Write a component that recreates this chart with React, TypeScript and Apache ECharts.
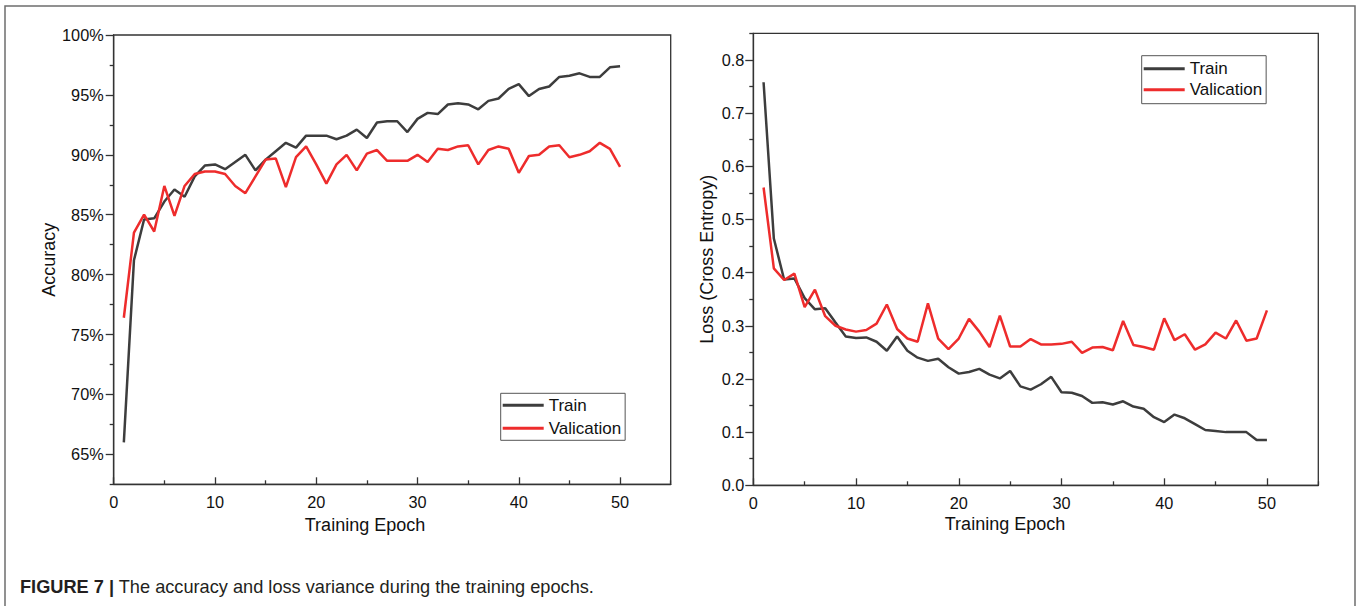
import React, { useEffect, useRef } from "react";
import * as echarts from "echarts";

const epochs = [
  1, 2, 3, 4, 5, 6, 7, 8, 9, 10, 11, 12, 13, 14, 15, 16, 17, 18, 19, 20, 21, 22, 23, 24, 25,
  26, 27, 28, 29, 30, 31, 32, 33, 34, 35, 36, 37, 38, 39, 40, 41, 42, 43, 44, 45, 46, 47, 48, 49, 50,
];

const accTrain = [
  66.0, 81.2, 84.6, 84.7, 86.1, 87.1, 86.5, 88.2, 89.1, 89.2, 88.8, 89.4, 90.0, 88.7, 89.6, 90.3, 91.0, 90.6, 91.6, 91.6,
  91.6, 91.3, 91.6, 92.1, 91.4, 92.7, 92.8, 92.8, 91.9, 93.0, 93.5, 93.4, 94.2, 94.3, 94.2, 93.8, 94.5, 94.7, 95.5, 95.9,
  94.9, 95.5, 95.7, 96.5, 96.6, 96.8, 96.5, 96.5, 97.3, 97.4,
];

const accVal = [
  76.4, 83.5, 85.0, 83.6, 87.4, 84.9, 87.4, 88.4, 88.6, 88.6, 88.4, 87.4, 86.8, 88.2, 89.6, 89.7, 87.3, 89.8, 90.7, 89.2,
  87.6, 89.2, 90.0, 88.7, 90.1, 90.4, 89.5, 89.5, 89.5, 90.0, 89.4, 90.5, 90.4, 90.7, 90.8, 89.2, 90.4, 90.7, 90.5, 88.5,
  89.9, 90.0, 90.7, 90.8, 89.8, 90.0, 90.3, 91.0, 90.5, 89.0,
];

const lossTrain = [
  0.758, 0.464, 0.387, 0.389, 0.352, 0.331, 0.333, 0.306, 0.28, 0.277, 0.278, 0.27, 0.253, 0.28, 0.253, 0.24, 0.234, 0.238,
  0.222, 0.21, 0.213, 0.219, 0.208, 0.201, 0.215, 0.186, 0.18, 0.19, 0.204, 0.175, 0.174, 0.168, 0.155, 0.156, 0.152, 0.158,
  0.148, 0.144, 0.128, 0.119, 0.133, 0.126, 0.115, 0.104, 0.102, 0.1, 0.1, 0.1, 0.085, 0.085,
];

const lossVal = [
  0.56, 0.408, 0.386, 0.398, 0.335, 0.368, 0.318, 0.3, 0.293, 0.289, 0.292, 0.304, 0.34, 0.294, 0.276, 0.27, 0.342, 0.276,
  0.256, 0.276, 0.313, 0.289, 0.26, 0.319, 0.261, 0.261, 0.275, 0.265, 0.265, 0.266, 0.27, 0.249, 0.259, 0.26, 0.254, 0.309,
  0.264, 0.26, 0.255, 0.314, 0.273, 0.284, 0.255, 0.265, 0.287, 0.276, 0.31, 0.272, 0.276, 0.329,
];

const epochTicks = [0, 10, 20, 30, 40, 50];
const epochMinorTicks = [5, 15, 25, 35, 45, 55];
const accTicks = [65, 70, 75, 80, 85, 90, 95, 100];
const accMinorTicks = [62.5, 67.5, 72.5, 77.5, 82.5, 87.5, 92.5, 97.5];
const lossTicks = [0, 0.1, 0.2, 0.3, 0.4, 0.5, 0.6, 0.7, 0.8];
const lossMinorTicks = [0.05, 0.15, 0.25, 0.35, 0.45, 0.55, 0.65, 0.75, 0.85];

const seriesNames = ["Train", "Valication"];
const xTitle = "Training Epoch";
const accTitle = "Accuracy";
const lossTitle = "Loss (Cross Entropy)";
const captionBold = "FIGURE 7 |";
const captionText = "The accuracy and loss variance during the training epochs.";

const FONT = '"Liberation Sans", Arial, Helvetica, sans-serif';
const AXIS_COLOR = "#333333";
const TEXT_COLOR = "#111111";
const TRAIN_COLOR = "#3d3d3d";
const VAL_COLOR = "#ee2c2c";

const axisLineStyle = { color: AXIS_COLOR, width: 1.3 };

function majorX(gridIndex: number) {
  return {
    type: "value",
    gridIndex,
    min: 0,
    max: 55,
    position: "bottom",
    axisLine: { show: true, onZero: false, lineStyle: axisLineStyle },
    axisTick: { show: true, inside: true, length: 7, customValues: epochTicks, lineStyle: axisLineStyle },
    axisLabel: {
      show: true,
      customValues: epochTicks,
      fontSize: 16.3,
      color: TEXT_COLOR,
      fontFamily: FONT,
      margin: 10,
    },
    splitLine: { show: false },
  };
}

function minorX(gridIndex: number) {
  return {
    type: "value",
    gridIndex,
    min: 0,
    max: 55,
    position: "bottom",
    axisLine: { show: false, onZero: false },
    axisTick: { show: true, inside: true, length: 4, customValues: epochMinorTicks, lineStyle: axisLineStyle },
    axisLabel: { show: false },
    splitLine: { show: false },
  };
}

function App() {
  const ref = useRef<HTMLDivElement>(null);

  useEffect(() => {
    if (!ref.current) return;
    const chart = echarts.init(ref.current, null, { renderer: "svg" });

    const legendBase = {
      orient: "vertical",
      icon: "rect",
      itemWidth: 41,
      itemHeight: 3,
      borderColor: "#555555",
      borderWidth: 1,
      borderRadius: 0,
      backgroundColor: "#ffffff",
      selectedMode: false,
      textStyle: { fontSize: 17, lineHeight: 20, color: TEXT_COLOR, fontFamily: FONT },
      data: seriesNames,
    };

    const option: any = {
      animation: false,
      backgroundColor: "#ffffff",
      textStyle: { fontFamily: FONT },
      grid: [
        {
          left: 113.7,
          top: 35,
          width: 557,
          height: 449.3,
          show: true,
          borderColor: AXIS_COLOR,
          borderWidth: 1.3,
          backgroundColor: "transparent",
        },
        {
          left: 753.3,
          top: 33.3,
          width: 565,
          height: 452,
          show: true,
          borderColor: AXIS_COLOR,
          borderWidth: 1.3,
          backgroundColor: "transparent",
        },
      ],
      xAxis: [majorX(0), minorX(0), majorX(1), minorX(1)],
      yAxis: [
        {
          type: "value",
          gridIndex: 0,
          min: 62.5,
          max: 100,
          position: "left",
          axisLine: { show: true, onZero: false, lineStyle: axisLineStyle },
          axisTick: { show: true, inside: false, length: 8, customValues: accTicks, lineStyle: axisLineStyle },
          axisLabel: {
            customValues: accTicks,
            formatter: (v: number) => `${v}%`,
            fontSize: 16.3,
            color: TEXT_COLOR,
            fontFamily: FONT,
            margin: 10,
          },
          splitLine: { show: false },
          name: accTitle,
          nameLocation: "middle",
          nameGap: 53,
          nameTextStyle: { fontSize: 18, color: TEXT_COLOR, fontFamily: FONT },
        },
        {
          type: "value",
          gridIndex: 0,
          min: 62.5,
          max: 100,
          position: "left",
          axisLine: { show: false, onZero: false },
          axisTick: { show: true, inside: false, length: 4, customValues: accMinorTicks, lineStyle: axisLineStyle },
          axisLabel: { show: false },
          splitLine: { show: false },
        },
        {
          type: "value",
          gridIndex: 1,
          min: 0,
          max: 0.85,
          position: "left",
          axisLine: { show: true, onZero: false, lineStyle: axisLineStyle },
          axisTick: { show: true, inside: false, length: 8, customValues: lossTicks, lineStyle: axisLineStyle },
          axisLabel: {
            customValues: lossTicks,
            formatter: (v: number) => v.toFixed(1),
            fontSize: 16.3,
            color: TEXT_COLOR,
            fontFamily: FONT,
            margin: 9,
          },
          splitLine: { show: false },
          name: lossTitle,
          nameLocation: "middle",
          nameGap: 37,
          nameTextStyle: { fontSize: 18, color: TEXT_COLOR, fontFamily: FONT },
        },
        {
          type: "value",
          gridIndex: 1,
          min: 0,
          max: 0.85,
          position: "left",
          axisLine: { show: false, onZero: false },
          axisTick: { show: true, inside: false, length: 4, customValues: lossMinorTicks, lineStyle: axisLineStyle },
          axisLabel: { show: false },
          splitLine: { show: false },
        },
      ],
      legend: [
        { ...legendBase, left: 500.7, top: 393.3, padding: [2, 4, 2, 2], itemGap: 3 },
        { ...legendBase, left: 1141.7, top: 55.7, padding: [3, 4, 4, 2], itemGap: 1 },
      ],
      series: [
        {
          type: "line",
          name: seriesNames[0],
          xAxisIndex: 0,
          yAxisIndex: 0,
          data: epochs.map((e, i) => [e, accTrain[i]]),
          symbol: "none",
          lineStyle: { color: TRAIN_COLOR, width: 2.5 },
          itemStyle: { color: TRAIN_COLOR },
        },
        {
          type: "line",
          name: seriesNames[1],
          xAxisIndex: 0,
          yAxisIndex: 0,
          data: epochs.map((e, i) => [e, accVal[i]]),
          symbol: "none",
          lineStyle: { color: VAL_COLOR, width: 2.5 },
          itemStyle: { color: VAL_COLOR },
        },
        {
          type: "line",
          name: seriesNames[0],
          xAxisIndex: 2,
          yAxisIndex: 2,
          data: epochs.map((e, i) => [e, lossTrain[i]]),
          symbol: "none",
          lineStyle: { color: TRAIN_COLOR, width: 2.5 },
          itemStyle: { color: TRAIN_COLOR },
        },
        {
          type: "line",
          name: seriesNames[1],
          xAxisIndex: 2,
          yAxisIndex: 2,
          data: epochs.map((e, i) => [e, lossVal[i]]),
          symbol: "none",
          lineStyle: { color: VAL_COLOR, width: 2.5 },
          itemStyle: { color: VAL_COLOR },
        },
      ],
      graphic: [
        {
          type: "rect",
          silent: true,
          z: -10,
          shape: { x: 5, y: 6, width: 1350, height: 700 },
          style: { fill: "none", stroke: "#6e6e6e", lineWidth: 1.5 },
        },
        {
          type: "text",
          silent: true,
          x: 365,
          y: 525,
          style: {
            text: xTitle,
            fontSize: 18,
            fontFamily: FONT,
            fill: TEXT_COLOR,
            align: "center",
            verticalAlign: "middle",
          },
        },
        {
          type: "text",
          silent: true,
          x: 1005,
          y: 524,
          style: {
            text: xTitle,
            fontSize: 18,
            fontFamily: FONT,
            fill: TEXT_COLOR,
            align: "center",
            verticalAlign: "middle",
          },
        },
        {
          type: "text",
          silent: true,
          x: 20,
          y: 587,
          style: {
            text: `{b|${captionBold}} ${captionText}`,
            fontSize: 18.2,
            fontFamily: FONT,
            fill: "#231f20",
            align: "left",
            verticalAlign: "middle",
            rich: {
              b: { fontSize: 18.2, fontWeight: "bold", fontFamily: FONT, fill: "#231f20" },
            },
          },
        },
      ],
    };

    chart.setOption(option);
    return () => chart.dispose();
  }, []);

  return (
    <div
      ref={ref}
      style={{ position: "absolute", left: 0, top: 0, width: 1357, height: 606, background: "#ffffff" }}
    />
  );
}

export default App;
